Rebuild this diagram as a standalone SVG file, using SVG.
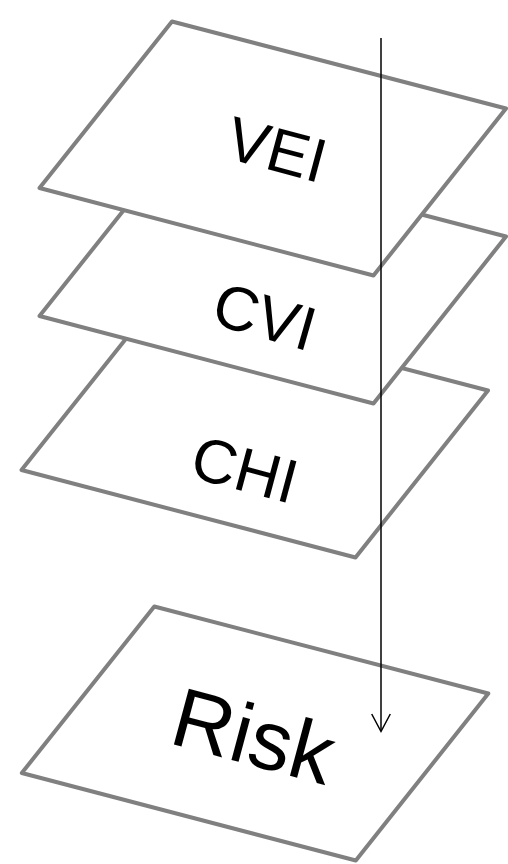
<svg xmlns="http://www.w3.org/2000/svg" width="508" height="864" viewBox="0 0 508 864">
  <defs>
    <style>
      .plane { fill: #ffffff; stroke: #808080; stroke-width: 4; stroke-linejoin: round; }
      .label { font-family: "Liberation Sans", Arial, sans-serif; fill: #000000; text-anchor: middle; }
      .flow { fill: none; stroke: #000000; stroke-width: 1.5; }
    </style>
    <!-- one layer outline, reused at each level -->
    <polygon id="layer" points="172,21.5 506,108.5 373.5,275.5 39.5,188"/>
  </defs>
  <rect width="508" height="864" fill="#ffffff"/>

  <g id="risk">
    <use href="#layer" class="plane" transform="translate(-17.7,585)"/>
    <text class="label" font-size="84" transform="translate(254,735) rotate(15)" y="30">Risk</text>
  </g>

  <g id="chi">
    <use href="#layer" class="plane" transform="translate(-18,282)"/>
    <text class="label" font-size="62" transform="translate(245,469) rotate(15)" y="22">CHI</text>
  </g>

  <g id="cvi">
    <use href="#layer" class="plane" transform="translate(0,128)"/>
    <text class="label" font-size="62" transform="translate(265,316) rotate(16)" y="22">CVI</text>
  </g>

  <g id="vei">
    <use href="#layer" class="plane"/>
    <text class="label" font-size="62" transform="translate(277,149) rotate(15)" y="22">VEI</text>
  </g>

  <g id="connectors">
    <line class="flow" x1="381" y1="38" x2="381" y2="731"/>
    <polyline class="flow" points="371.7,714 381,731.5 390.3,714"/>
  </g>
</svg>
